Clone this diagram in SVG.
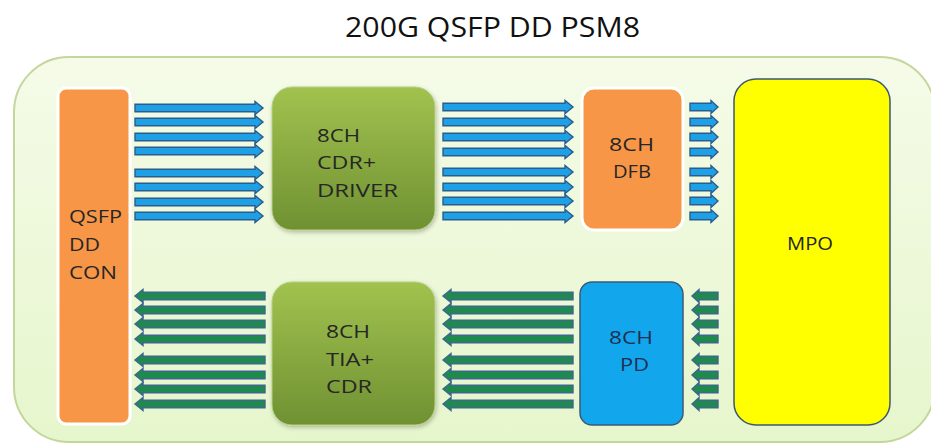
<svg xmlns="http://www.w3.org/2000/svg" xmlns:xlink="http://www.w3.org/1999/xlink" width="931" height="447" viewBox="0 0 931 447">
<style>
text{font-family:"Open Sans","Liberation Sans",sans-serif;font-size:18.5px;fill:#262626}
.title{font-size:27px;fill:#111}
.org{fill:#f79646;stroke:#fff;stroke-width:3}
.grn{fill:url(#gg);stroke:#b7cf86;stroke-width:1}
.blu{stroke:#2b5c8a;stroke-width:1.4;fill:#1ea0e6}
.gar{stroke:#3f6590;stroke-width:1.4;fill:#1f8a4e}
</style>
<defs>
<linearGradient id="bg" x1="0" y1="0" x2="0" y2="1">
<stop offset="0" stop-color="#f5fbe8"/><stop offset="1" stop-color="#e6f6cc"/>
</linearGradient>
<linearGradient id="gg" x1="0" y1="0" x2="0" y2="1">
<stop offset="0" stop-color="#a2c24f"/><stop offset="1" stop-color="#6f9132"/>
</linearGradient>
<path id="rL" d="M0,-3.8H120V-6.5L128,0L120,6.5V3.8H0Z"/>
<path id="rM" d="M0,-3.8H122V-6.5L130,0L122,6.5V3.8H0Z"/>
<path id="rS" d="M0,-3.8H21V-6.5L28,0L21,6.5V3.8H0Z"/>
<path id="lL" d="M0,0L8,-6.5V-3.8H130V3.8H8V6.5Z"/>
<path id="lS" d="M0,0L7,-6.5V-3.8H26V3.8H7V6.5Z"/>
<filter id="sh" x="-10%" y="-10%" width="120%" height="120%"><feDropShadow dx="1" dy="2" stdDeviation="2" flood-color="#000" flood-opacity="0.25"/></filter>
</defs>
<rect x="0" y="0" width="931" height="447" fill="#fff"/>
<text class="title" x="345" y="37" textLength="295" lengthAdjust="spacingAndGlyphs">200G QSFP DD PSM8</text>
<g id="module">
<rect x="14" y="57" width="921" height="385" rx="55" fill="url(#bg)" stroke="#c3d69b" stroke-width="2"/>
</g>
<g id="connectors">
<g class="blu">
<use xlink:href="#rL" x="135" y="108"/><use xlink:href="#rL" x="135" y="122"/><use xlink:href="#rL" x="135" y="137"/><use xlink:href="#rL" x="135" y="151"/>
<use xlink:href="#rL" x="135" y="173"/><use xlink:href="#rL" x="135" y="187"/><use xlink:href="#rL" x="135" y="202"/><use xlink:href="#rL" x="135" y="216"/>
<use xlink:href="#rM" x="443" y="107"/><use xlink:href="#rM" x="443" y="122"/><use xlink:href="#rM" x="443" y="137"/><use xlink:href="#rM" x="443" y="152"/>
<use xlink:href="#rM" x="443" y="172"/><use xlink:href="#rM" x="443" y="187"/><use xlink:href="#rM" x="443" y="201"/><use xlink:href="#rM" x="443" y="216"/>
<use xlink:href="#rS" x="690" y="107"/><use xlink:href="#rS" x="690" y="122"/><use xlink:href="#rS" x="690" y="137"/><use xlink:href="#rS" x="690" y="152"/>
<use xlink:href="#rS" x="690" y="172"/><use xlink:href="#rS" x="690" y="187"/><use xlink:href="#rS" x="690" y="201"/><use xlink:href="#rS" x="690" y="216"/>
</g>
<g class="gar">
<use xlink:href="#lL" x="135" y="296"/><use xlink:href="#lL" x="135" y="310"/><use xlink:href="#lL" x="135" y="324"/><use xlink:href="#lL" x="135" y="339"/>
<use xlink:href="#lL" x="135" y="360"/><use xlink:href="#lL" x="135" y="375"/><use xlink:href="#lL" x="135" y="389"/><use xlink:href="#lL" x="135" y="404"/>
<use xlink:href="#lL" x="443" y="296"/><use xlink:href="#lL" x="443" y="310"/><use xlink:href="#lL" x="443" y="324"/><use xlink:href="#lL" x="443" y="339"/>
<use xlink:href="#lL" x="443" y="360"/><use xlink:href="#lL" x="443" y="375"/><use xlink:href="#lL" x="443" y="389"/><use xlink:href="#lL" x="443" y="404"/>
<use xlink:href="#lS" x="692" y="296"/><use xlink:href="#lS" x="692" y="310"/><use xlink:href="#lS" x="692" y="324"/><use xlink:href="#lS" x="692" y="339"/>
<use xlink:href="#lS" x="692" y="360"/><use xlink:href="#lS" x="692" y="375"/><use xlink:href="#lS" x="692" y="389"/><use xlink:href="#lS" x="692" y="404"/>
</g>
</g>
<g id="qsfp">
<rect class="org" x="58" y="88" width="72" height="336" rx="8"/>
<text x="69" y="223" textLength="53" lengthAdjust="spacingAndGlyphs">QSFP</text><text x="69" y="251" textLength="31" lengthAdjust="spacingAndGlyphs">DD</text><text x="69" y="279" textLength="48" lengthAdjust="spacingAndGlyphs">CON</text>
</g>
<g id="cdr-driver">
<rect class="grn" x="272" y="87" width="163" height="143" rx="20" filter="url(#sh)"/>
<text x="317" y="142" textLength="43" lengthAdjust="spacingAndGlyphs">8CH</text><text x="317" y="169" textLength="59" lengthAdjust="spacingAndGlyphs">CDR+</text><text x="317" y="197" textLength="81" lengthAdjust="spacingAndGlyphs">DRIVER</text>
</g>
<g id="dfb">
<rect class="org" x="582" y="88" width="101" height="142" rx="12"/>
<text x="609" y="151" textLength="45" lengthAdjust="spacingAndGlyphs">8CH</text><text x="613" y="178" textLength="38" lengthAdjust="spacingAndGlyphs">DFB</text>
</g>
<g id="mpo">
<rect x="734" y="79" width="156" height="346" rx="22" fill="#ffff00" stroke="#3e5a6e" stroke-width="1.5"/>
<text x="787" y="250" textLength="46" lengthAdjust="spacingAndGlyphs">MPO</text>
</g>
<g id="tia-cdr">
<rect class="grn" x="272" y="282" width="163" height="143" rx="20" filter="url(#sh)"/>
<text x="326" y="338" textLength="44" lengthAdjust="spacingAndGlyphs">8CH</text><text x="326" y="366" textLength="48" lengthAdjust="spacingAndGlyphs">TIA+</text><text x="326" y="393" textLength="46" lengthAdjust="spacingAndGlyphs">CDR</text>
</g>
<g id="pd">
<rect x="580" y="282" width="103" height="143" rx="12" fill="#12a7ec" stroke="#3b5a78" stroke-width="1.5"/>
<text x="609" y="344" textLength="44" lengthAdjust="spacingAndGlyphs" style="fill:#1f2f55">8CH</text><text x="620" y="371" textLength="29" lengthAdjust="spacingAndGlyphs" style="fill:#1f2f55">PD</text>
</g>
</svg>
